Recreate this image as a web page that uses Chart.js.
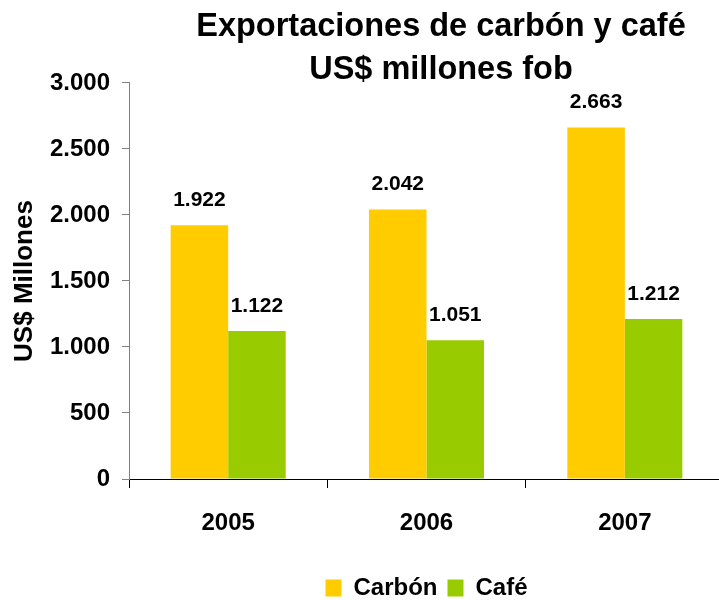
<!DOCTYPE html>
<html>
<head>
<meta charset="utf-8">
<script src="https://cdn.jsdelivr.net/npm/chart.js@4/dist/chart.umd.min.js"></script>
<style>
  html, body { margin: 0; padding: 0; background: #fff; overflow: hidden; width: 719px; height: 600px; }
  #wrap { width: 882px; height: 600px; position: relative; }
</style>
</head>
<body>
<div id="wrap"><canvas id="c" width="882" height="600"></canvas></div>
<script>
const categories = ['2005', '2006', '2007'];
const carbon = [1922, 2042, 2663];
const cafe = [1122, 1051, 1212];
const seriesNames = ['Carbón', 'Café'];
const yTickValues = [0, 500, 1000, 1500, 2000, 2500, 3000];
const yTickLabels = ['0', '500', '1.000', '1.500', '2.000', '2.500', '3.000'];
const titleLines = ['Exportaciones de carbón y café', 'US$ millones fob'];
const yAxisTitle = 'US$ Millones';

const FONT = "'Liberation Sans', Arial, Helvetica, sans-serif";

function fmt(v) {
  return String(v).replace(/\B(?=(\d{3})+(?!\d))/g, '.');
}

const valueLabels = {
  id: 'valueLabels',
  afterDatasetsDraw(chart) {
    const ctx = chart.ctx;
    ctx.save();
    ctx.font = 'bold 21px ' + FONT;
    ctx.fillStyle = '#000';
    ctx.textAlign = 'center';
    ctx.textBaseline = 'middle';
    chart.data.datasets.forEach((ds, i) => {
      const meta = chart.getDatasetMeta(i);
      meta.data.forEach((el, j) => {
        ctx.fillText(fmt(ds.data[j]), el.x, el.y - 25);
      });
    });
    ctx.restore();
  }
};

new Chart(document.getElementById('c'), {
  type: 'bar',
  data: {
    labels: categories,
    datasets: [
      { label: seriesNames[0], data: carbon, backgroundColor: '#FFCC00', borderWidth: 0, yAxisID: 'y' },
      { label: seriesNames[1], data: cafe, backgroundColor: '#99CC00', borderWidth: 0, yAxisID: 'y' }
    ]
  },
  options: {
    responsive: false,
    animation: false,
    devicePixelRatio: 1,
    layout: { padding: { left: 0, right: 0, top: 0, bottom: -10 } },
    datasets: { bar: { categoryPercentage: 0.58, barPercentage: 1.0 } },
    plugins: {
      title: {
        display: true,
        text: titleLines,
        color: '#000',
        font: { family: FONT, size: 32.5, weight: 'bold', lineHeight: 1.323 },
        padding: { top: 6, bottom: -9 }
      },
      legend: {
        display: true,
        position: 'bottom',
        fullSize: false,
        labels: {
          color: '#000',
          font: { family: FONT, size: 24, weight: 'bold' },
          boxWidth: 16,
          boxHeight: 17,
          padding: 10
        }
      },
      tooltip: { enabled: false }
    },
    scales: {
      x: {
        grid: { display: true, drawOnChartArea: false, drawTicks: true, tickLength: 9, color: '#000', offset: true },
        border: { display: true, color: '#000', width: 1 },
        ticks: { color: '#000', font: { family: FONT, size: 24, weight: 'bold' }, padding: 21 },
        afterFit(scale) { scale.height = 87; }
      },
      y: {
        min: 0,
        max: 3000,
        afterBuildTicks(scale) { scale.ticks = yTickValues.map(v => ({ value: v })); },
        grid: { display: true, drawOnChartArea: false, drawTicks: true, tickLength: 7, color: '#808080' },
        border: { display: true, color: '#808080', width: 1 },
        ticks: {
          color: '#000',
          font: { family: FONT, size: 24, weight: 'bold' },
          padding: 12,
          callback(value) {
            const idx = yTickValues.indexOf(value);
            return idx >= 0 ? yTickLabels[idx] : '';
          }
        },
        title: {
          display: true,
          text: yAxisTitle,
          color: '#000',
          font: { family: FONT, size: 26, weight: 'bold' },
          padding: { top: 9, bottom: 0 }
        },
        afterFit(scale) { scale.width = 129; }
      },
      yRightSpace: {
        type: 'linear',
        position: 'right',
        min: 0,
        max: 3000,
        grid: { display: false, drawTicks: false },
        border: { display: false },
        ticks: { display: false },
        afterFit(scale) { scale.width = 158; }
      }
    }
  },
  plugins: [valueLabels]
});
</script>
</body>
</html>
